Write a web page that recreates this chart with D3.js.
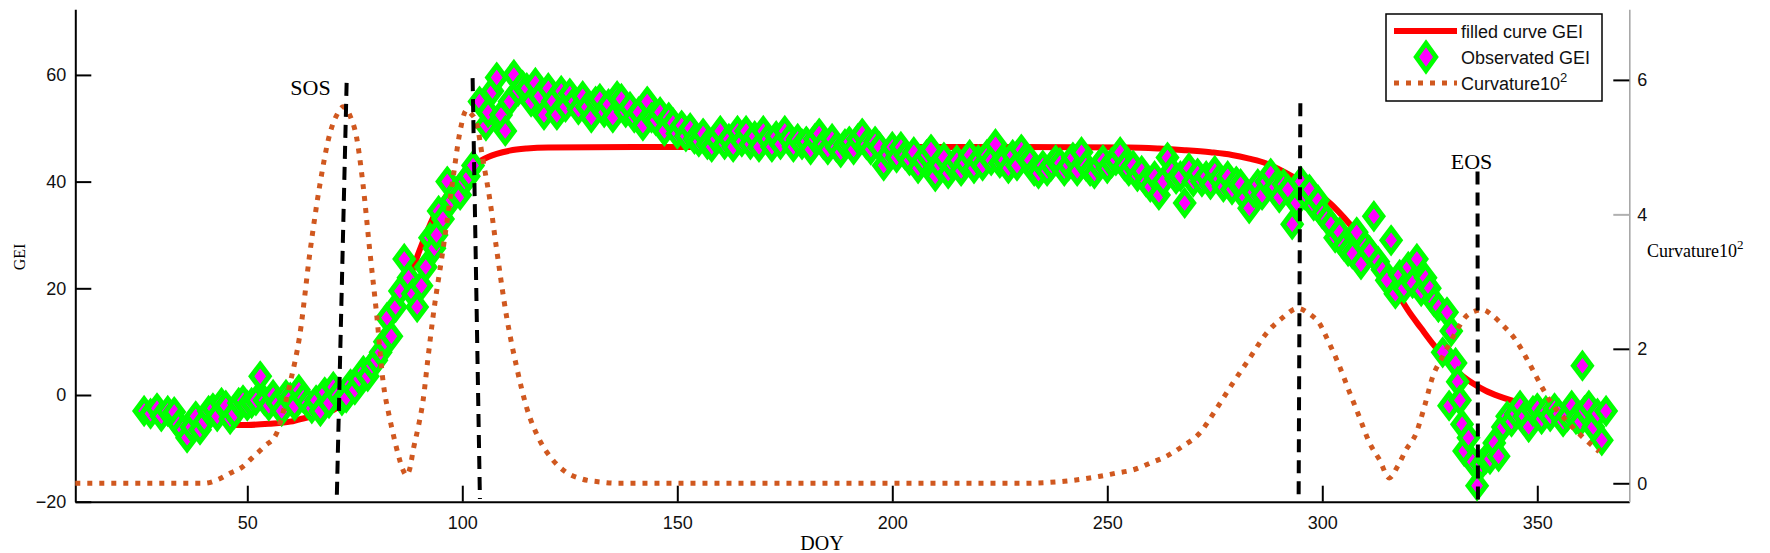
<!DOCTYPE html>
<html><head><meta charset="utf-8">
<script src="https://cdn.jsdelivr.net/npm/d3@7"></script>
<style>body{margin:0;background:#fff}svg{display:block}</style>
</head><body>
<svg id="chart" width="1770" height="553"></svg>
<script>
// ---------- data ----------
const xTicks = [50, 100, 150, 200, 250, 300, 350];
const leftTicks = [-20, 0, 20, 40, 60];
const rightTicks = [0, 2, 4, 6];

const fittedDOY = [47,50,55,60,62,65,68,70,72,74,
  76,78,80,82,84,86,88,90,92,94,
  96,98,100,102,104,106,108,111,115,120,
  140,200,255,262,268,274,279,283,287,290,
  293,296,299,302,305,308,311,314,317,320,
  323,326,329,332,335,338,341,344,348,352,
  356,360,365];
const fittedGEI = [-5.6,-5.6,-5.4,-5.0,-4.6,-4.0,-3.3,-2.8,-1.8,-0.5,
  0.9,3.5,7,10.9,14.5,18.5,22.5,27,31,34.5,
  37,39.5,41.3,42.8,43.8,44.6,45.2,45.8,46.2,46.4,
  46.5,46.5,46.4,46.2,45.9,45.5,45,44.3,43.4,42.3,
  41,39.5,37.8,35.8,33.3,30.5,27.5,24,19.8,15.8,
  12.5,9.3,6.5,4,2.2,0.8,-0.2,-1,-1.8,-2.3,
  -2.7,-3,-3.2];

const observedDOY = [26,27.5,29,30,31.5,33,34,35,36,37,
  38,39,40,41,42,43,44,45,46,47,
  48,49,50,51,52,53,54,55,56,57,
  58,59,60,61,62,63,64,65,66,67,
  68,69,70,71,72,73,74,75,76,77,
  78,79,80,81,82,82.5,83.5,84.5,85.5,86.5,
  87.5,88.5,89.5,90.5,91.5,92.5,93.5,94,94.5,95.5,
  96.5,97.5,98.5,99.5,100.5,101.5,102.5,104,105.5,106,
  107,108,109,110,111,112,113,114,115,116,
  117,118,119,120,121,122,123,124,125,126,
  127,128,129,130,131,132,133,134,135,136,
  137,138,139,140,141,142,143,144,145,146,
  147,148,149,150,151,152,153,154,155,156,
  157,158,159,160,161,162,163,164,165,166,
  167,168,169,170,171,172,173,174,175,176,
  177,178,179,180,181,182,183,184,185,186,
  187,188,189,190,191,192,193,194,195,196,
  197,198,199,200,201,202,203,204,205,206,
  207,208,209,210,211,212,213,214,215,216,
  217,218,219,220,221,222,223,224,225,226,
  227,228,229,230,231,232,233,234,235,236,
  237,238,239,240,241,242,243,244,245,246,
  247,248,249,250,251,252,253,254,255,256,
  257,258,259,260,261,262,263,264,265,266,
  267,268,269,270,271,272,273,274,275,276,
  277,278,279,280,281,282,283,284,285,286,
  287,288,289,290,291,292,293,294,295,296,
  297,298,299,300,301,302,303,304,305,306,
  307,308,309,310,311,312,313,314,315,316,
  317,318,319,320,321,322,323,324,325,326,
  327,328,329,329.5,330,331,331.5,332,332.5,333,
  334,335,336,337,338,339,340,341,342,343,
  344,345,346,347,348,349,350,351,352,353,
  354,355,356,357,358,359,360,360.5,361,362,
  363,364,365,366];
const observedGEI = [-3,-3.5,-2.5,-4,-3,-3.2,-5.5,-6.5,-8,-6,
  -4,-6.5,-5,-3,-2.5,-4,-1.5,-2,-4.5,-3.5,
  -1.5,-1,-2,-1.5,-1,3.5,-1,-2,0,-1.5,
  -3,0,-0.5,-2,1,-0.5,-1.5,-2.5,-1,-3,
  0.5,-1.5,1.5,0,-1,-0.5,2,1,3,4.5,
  3.5,5.5,6.5,8,10,14.5,11,16.5,19.5,25.5,
  22,19,16.5,20.5,24,29.5,27.5,30,34.5,33,
  40,36.5,38,37.5,40,41,43,55,50.5,53,
  57,59.5,52.5,49.5,55,60,57,58,57.5,55,
  58.5,56,52.5,57.5,55,52.5,57,54,56.5,55,
  53.5,56,54,52,55,55.5,53,54.5,52,56,
  55.5,53,54,52,53,50.5,55,52,51.5,53,
  49.5,52,51,49,50.5,48.5,50,48,47.5,49,
  47,46.5,48,49.5,47,48,46.5,49.5,47.5,49.5,
  47,48.5,46.5,49.5,48,46.5,48.5,47,49.5,48,
  46.5,48,47,47.5,46,48,49,47,46,48,
  46.5,45.5,47,47.5,46,48,49,47,46,47.5,
  46.5,43,45,46.5,44.5,46.5,45,44,45.5,42.5,
  44,45,46,41,43,44.5,41.5,43,44,42,
  43.5,45,42.5,44,43,45,44,47,43.5,44,
  42.5,45,43,46,44.5,44,42,41.5,43,42,
  43,44,43.5,42,43,44.5,42,45.5,43,42,
  41.5,43,44,42.5,43.5,44,45.5,43,42,43,
  41,42,40,39,41,37.5,40,44.5,42,40.5,
  41,36,42.5,40,41.5,40,41,39.5,42,40.5,
  39,41,38.5,40,39.5,37,35,38,39.5,37.5,
  40,41.5,39,37,39.5,38.5,32,36,40,37.5,
  38.5,35.5,36.5,34,33,32,29.5,30.5,28,27,
  26.5,30.5,24.5,28,27,33.5,25,23.5,21.5,29,
  19,22.5,20,24,21,25.5,19.5,22,20,17.5,
  16.5,8,15.5,-2,12,6,2.5,-1,-5.5,-10.5,
  -8,-12.5,-17,-13,-12,-12,-9,-11.5,-6,-4,
  -5,-3.5,-2,-4,-6,-3,-2.5,-4.5,-3,-4,
  -2.5,-3.5,-5,-4,-2,-4.5,-5,5.5,-3,-2,
  -6,-3.5,-8.5,-3];

const curvatureDOY = [10,40,43,46,49,51,54,56.8,58.5,60,
  62.2,64.6,66.9,69.2,71,72.3,74,75.4,76.9,78.5,
  80.1,81.6,83,83.9,85,86.2,87,87.8,88.6,89.8,
  90.9,92,93.2,95.5,97.9,99.4,101,102,103.3,104.8,
  106.4,108,110.3,112.6,114.9,118,121,124,128,132,
  136,230,240,248,252,256,260,263.7,267.5,271.4,
  275.3,279.2,283,287,290.5,294.3,297,299.3,301.5,304,
  306.3,308.6,311,313.3,315.6,317.5,319.5,321.8,323.8,325.7,
  327.7,329.6,331.5,333.4,335.5,337.3,339.5,342,345,348,
  350.5,352.8,356.5,360.5,364.4];
const curvatureValue = [0,0,0.05,0.15,0.25,0.37,0.55,0.74,1.1,1.5,
  2.2,3.45,4.45,5.2,5.5,5.6,5.45,5.15,4.45,3.45,
  2.5,1.5,1.0,0.74,0.45,0.2,0.12,0.22,0.5,0.85,
  1.24,1.85,2.48,3.47,4.56,5.21,5.55,5.5,5.36,4.81,
  4.22,3.47,2.48,1.74,1.14,0.64,0.35,0.17,0.06,0.02,
  0,0,0.03,0.1,0.15,0.2,0.3,0.4,0.55,0.74,
  1.1,1.49,1.85,2.23,2.45,2.6,2.52,2.38,2.1,1.74,
  1.36,0.99,0.6,0.35,0.08,0.25,0.5,0.74,1.15,1.59,
  1.85,2.08,2.3,2.48,2.56,2.58,2.5,2.35,2.13,1.8,
  1.5,1.24,0.95,0.69,0.47];

// phenology markers (dashed vertical lines, slightly slanted as in the figure)
const phenoLabels = ["SOS", "", "", "EOS"];
const phenoTopDOY = [73.1, 102.4, 294.9, 336.1];
const phenoBottomDOY = [70.8, 104.1, 294.5, 336.2];
const phenoTopGEI = [58.5, 59.4, 54.7, 41.9];
const phenoBottomGEI = [-19.7, -19.5, -19.1, -19.8];

const legendLabels = ["filled curve GEI", "Observated GEI", "Curvature10"];

// ---------- drawing ----------
const svg = d3.select("#chart");
const SANS = "'Liberation Sans', Arial, Helvetica, sans-serif";
const SERIF = "'Liberation Serif', 'Times New Roman', serif";

const x = d3.scaleLinear().domain([10, 371.4]).range([75.3, 1629.3]);
const yL = d3.scaleLinear().domain([-20, 72.3]).range([501.7, 9.3]);
const yR = d3.scaleLinear().domain([-0.274, 7.05]).range([501.7, 9.3]);

svg.append("rect").attr("width", 1770).attr("height", 553).attr("fill", "#fff");

// axes
const gx = svg.append("g")
  .attr("transform", `translate(0,${yL.range()[0]})`)
  .call(d3.axisBottom(x).tickValues(xTicks).tickSizeInner(-16).tickSizeOuter(0).tickPadding(15).tickFormat(d3.format("d")));
const gl = svg.append("g")
  .attr("transform", `translate(${x.range()[0]},0)`)
  .call(d3.axisLeft(yL).tickValues(leftTicks).tickSizeInner(-16).tickSizeOuter(0).tickPadding(9).tickFormat(d3.format("d")));
const gr = svg.append("g")
  .attr("transform", `translate(${x.range()[1]},0)`)
  .call(d3.axisRight(yR).tickValues(rightTicks).tickSizeInner(-16).tickSizeOuter(0).tickPadding(8).tickFormat(d3.format("d")));

[gx, gl].forEach(g => {
  g.select(".domain").attr("stroke", "#000").attr("stroke-width", 2);
  g.selectAll(".tick line").attr("stroke", "#000").attr("stroke-width", 2);
});
gr.select(".domain").attr("stroke", "#a8a8a8").attr("stroke-width", 1.6);
gr.selectAll(".tick line").attr("stroke", d => d === 4 ? "#b0b0b0" : "#000").attr("stroke-width", 2);
[gx, gl, gr].forEach(g => {
  g.selectAll(".tick text").attr("font-family", SANS).attr("font-size", 18).attr("fill", "#111");
});

// fitted curve
const lineL = d3.line().x(d => x(d[0])).y(d => yL(d[1])).curve(d3.curveMonotoneX);
svg.append("path")
  .datum(fittedDOY.map((d, i) => [d, fittedGEI[i]]))
  .attr("d", lineL).attr("fill", "none").attr("stroke", "#ff0000").attr("stroke-width", 6);

// observed points
const diamond = "M0,-12L9,0L0,12L-9,0Z";
svg.append("g").selectAll("path")
  .data(observedDOY.map((d, i) => [d, observedGEI[i]]))
  .join("path")
  .attr("d", diamond)
  .attr("transform", d => `translate(${x(d[0])},${yL(d[1])})`)
  .attr("fill", "#ff00ff").attr("stroke", "#00ff00").attr("stroke-width", 5)
  .attr("stroke-linejoin", "miter");

// curvature (right axis)
const lineR = d3.line().x(d => x(d[0])).y(d => yR(d[1])).curve(d3.curveMonotoneX);
svg.append("path")
  .datum(curvatureDOY.map((d, i) => [d, curvatureValue[i]]))
  .attr("d", lineR).attr("fill", "none").attr("stroke", "#d0581f")
  .attr("stroke-width", 5).attr("stroke-dasharray", "5,7");

// phenology dashed lines
phenoTopDOY.forEach((t, i) => {
  const x1 = x(t), y1 = yL(phenoTopGEI[i]);
  svg.append("line")
    .attr("x1", x1).attr("y1", y1)
    .attr("x2", x(phenoBottomDOY[i])).attr("y2", yL(phenoBottomGEI[i]))
    .attr("stroke", "#000").attr("stroke-width", 4).attr("stroke-dasharray", "13,8");
  if (phenoLabels[i] === "SOS") {
    svg.append("text").attr("x", x1 - 16).attr("y", y1 + 12)
      .attr("text-anchor", "end").attr("font-family", SERIF).attr("font-size", 22).text(phenoLabels[i]);
  } else if (phenoLabels[i] === "EOS") {
    svg.append("text").attr("x", x1 - 6).attr("y", y1 - 2)
      .attr("text-anchor", "middle").attr("font-family", SERIF).attr("font-size", 22).text(phenoLabels[i]);
  }
});

// axis titles
svg.append("text").attr("transform", "translate(25,257) rotate(-90)")
  .attr("text-anchor", "middle").attr("font-family", SERIF).attr("font-size", 16).text("GEI");
svg.append("text").attr("x", 822).attr("y", 550)
  .attr("text-anchor", "middle").attr("font-family", SERIF).attr("font-size", 20).text("DOY");
const rt = svg.append("text").attr("x", 1647).attr("y", 257)
  .attr("font-family", SERIF).attr("font-size", 18);
rt.append("tspan").text("Curvature10");
rt.append("tspan").attr("dy", -8).attr("font-size", 13).text("2");

// legend
const lg = svg.append("g");
lg.append("rect").attr("x", 1386).attr("y", 14).attr("width", 216).attr("height", 87)
  .attr("fill", "#fff").attr("stroke", "#000").attr("stroke-width", 1.5);
lg.append("line").attr("x1", 1394).attr("x2", 1457).attr("y1", 31).attr("y2", 31)
  .attr("stroke", "#ff0000").attr("stroke-width", 6);
lg.append("path").attr("d", diamond).attr("transform", "translate(1426,57) scale(1.1,1.15)")
  .attr("fill", "#ff00ff").attr("stroke", "#00ff00").attr("stroke-width", 4.2);
lg.append("line").attr("x1", 1394).attr("x2", 1457).attr("y1", 83).attr("y2", 83)
  .attr("stroke", "#d0581f").attr("stroke-width", 5).attr("stroke-dasharray", "5,7");
const ly = [37.5, 64, 90];
legendLabels.forEach((s, i) => {
  const t = lg.append("text").attr("x", 1461).attr("y", ly[i])
    .attr("font-family", SANS).attr("font-size", 18).attr("fill", "#111");
  t.append("tspan").text(s);
  if (i === 2) t.append("tspan").attr("dy", -8).attr("font-size", 13).text("2");
});
</script>
</body></html>
